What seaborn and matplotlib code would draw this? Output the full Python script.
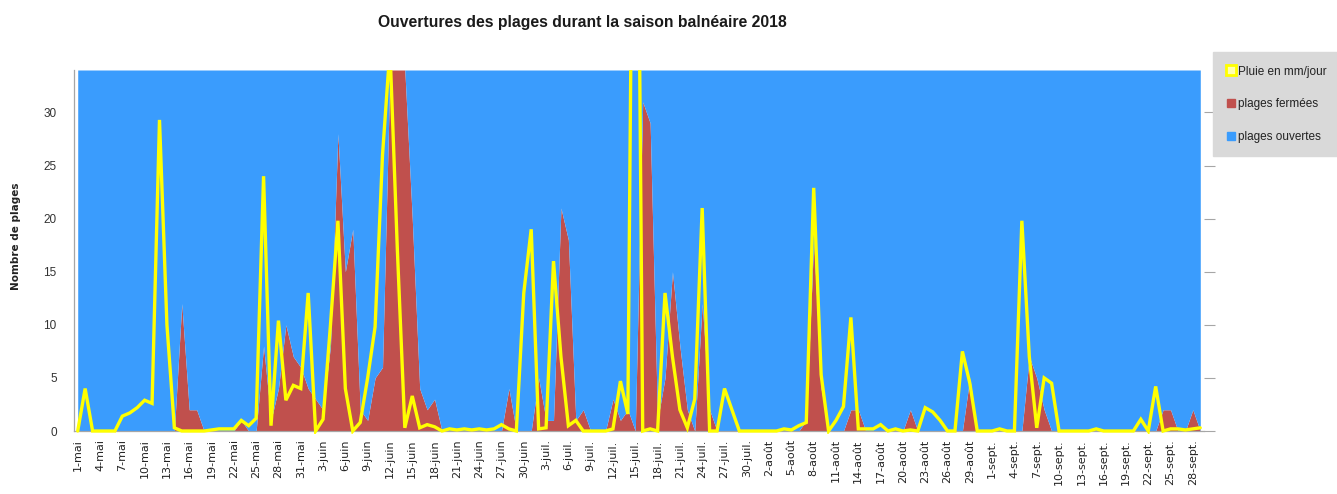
import numpy as np
import pandas as pd
import matplotlib
matplotlib.use("Agg")
import matplotlib.pyplot as plt
import seaborn as sns
from matplotlib.lines import Line2D
from matplotlib.transforms import Bbox, TransformedBbox

# ---------------- data ----------------
TITLE = "Ouvertures des plages durant la saison balnéaire 2018"
Y_LABEL = "Nombre de plages"
SERIES = ["Pluie en mm/jour", "plages fermées", "plages ouvertes"]
TOTAL_PLAGES = 34

jours = pd.date_range("2018-05-01", "2018-09-29", freq="D")

pluie = [
    0, 4, 0, 0, 0, 0, 1.4, 1.7, 2.2, 2.9,          # 1-10 mai
    2.6, 29.3, 10, 0.3, 0, 0, 0, 0, 0.1, 0.2,      # 11-20 mai
    0.2, 0.2, 1.0, 0.5, 1.2, 24, 0.5, 10.4, 2.9, 4.3,  # 21-30 mai
    4.0,                                            # 31 mai
    13, 0, 1.1, 10, 19.8, 4, 0, 0.8, 5, 9.8,       # 1-10 juin
    26, 36, 17, 0.3, 3.3, 0.3, 0.6, 0.4, 0, 0.2,   # 11-20 juin
    0.1, 0.2, 0.1, 0.2, 0.1, 0.2, 0.6, 0.2, 0, 13, # 21-30 juin
    19, 0.2, 0.3, 16, 7, 0.5, 1, 0, 0, 0,          # 1-10 juil
    0, 0.2, 4.7, 1.6, 85, 0, 0.2, 0, 13, 7,        # 11-20 juil
    2, 0.3, 3, 21, 0, 0, 4, 2, 0, 0,               # 21-30 juil
    0,                                              # 31 juil
    0, 0, 0, 0.2, 0.1, 0.5, 0.8, 22.9, 5.3, 0,     # 1-10 aout
    1, 2.3, 10.7, 0.2, 0.2, 0.2, 0.6, 0, 0.2, 0,   # 11-20 aout
    0.1, 0, 2.2, 1.8, 1.0, 0, 0, 7.5, 4.5, 0,      # 21-30 aout
    0,                                              # 31 aout
    0, 0.2, 0, 0, 19.8, 7, 0.3, 5, 4.5, 0,         # 1-10 sept
    0, 0, 0, 0, 0.2, 0, 0, 0, 0, 0,                # 11-20 sept
    1.1, 0, 4.2, 0, 0.2, 0.2, 0.1, 0.2, 0.3,       # 21-29 sept
]

fermees = [
    0, 0, 0, 0, 0, 0, 0, 0, 0, 0,                  # 1-10 mai
    0, 0, 0, 0, 12, 2, 2, 0, 0, 0,                 # 11-20 mai
    0, 0, 1, 0, 0, 8, 1, 4, 10, 7,                 # 21-30 mai
    6,                                              # 31 mai
    4, 3, 2, 8, 28, 15, 19, 2, 1, 5,               # 1-10 juin
    6, 34, 34, 34, 20, 4, 2, 3, 0, 0,              # 11-20 juin
    0, 0, 0, 0, 0, 0, 0, 4, 0, 0,                  # 21-30 juin
    0, 5, 1, 1, 21, 18, 1, 2, 0, 0,                # 1-10 juil
    0, 3, 1, 2, 0, 31, 29, 1, 5, 15,               # 11-20 juil
    8, 2, 0, 12, 2, 0, 0, 0, 0, 0,                 # 21-30 juil
    0,                                              # 31 juil
    0, 0, 0, 0, 0, 0, 1, 18, 4, 0,                 # 1-10 aout
    0, 0, 2, 2, 0, 0, 0, 0, 0, 0,                  # 11-20 aout
    2, 0, 0, 0, 0, 0, 0, 0, 5, 0,                  # 21-30 aout
    0,                                              # 31 aout
    0, 0, 0, 0, 0, 7, 5, 2, 0, 0,                  # 1-10 sept
    0, 0, 0, 0, 0, 0, 0, 0, 0, 0,                  # 11-20 sept
    0, 0, 0, 2, 2, 0, 0, 2, 0,                     # 21-29 sept
]

tick_labels = [
    "1-mai", "4-mai", "7-mai", "10-mai", "13-mai", "16-mai", "19-mai", "22-mai",
    "25-mai", "28-mai", "31-mai",
    "3-juin", "6-juin", "9-juin", "12-juin", "15-juin", "18-juin", "21-juin",
    "24-juin", "27-juin", "30-juin",
    "3-juil.", "6-juil.", "9-juil.", "12-juil.", "15-juil.", "18-juil.", "21-juil.",
    "24-juil.", "27-juil.", "30-juil.",
    "2-août", "5-août", "8-août", "11-août", "14-août", "17-août", "20-août",
    "23-août", "26-août", "29-août",
    "1-sept.", "4-sept.", "7-sept.", "10-sept.", "13-sept.", "16-sept.", "19-sept.",
    "22-sept.", "25-sept.", "28-sept.",
]
y_ticks = [0, 5, 10, 15, 20, 25, 30]

# ---------------- style ----------------
BLUE = "#3A9CFD"
RED = "#C0504D"
YELLOW = "#FFFF00"
LEGEND_BG = "#D9D9D9"
AXIS_GREY = "#A6A6A6"

sns.set_theme(style="white")
NARROW = ["Liberation Sans", "DejaVu Sans"]
plt.rcParams["font.family"] = ["DejaVu Sans"]

n = len(jours)
df = pd.DataFrame({
    "jour": np.arange(n),
    "pluie": pluie,
    "fermees": fermees,
})
df["ouvertes"] = TOTAL_PLAGES - df["fermees"]

W, H = 1337, 494
fig = plt.figure(figsize=(W / 100, H / 100), dpi=100)
x0, x1, y0, y1 = 74, 1204, 70, 431
ax = fig.add_axes([x0 / W, 1 - y1 / H, (x1 - x0) / W, (y1 - y0) / H])

ax.stackplot(df["jour"], df["fermees"], df["ouvertes"],
             colors=[RED, BLUE], linewidth=0, zorder=1)

sns.lineplot(data=df, x="jour", y="pluie", color=YELLOW, linewidth=2.4,
             ax=ax, zorder=3, legend=False)
line = ax.lines[-1]
line.set_solid_joinstyle("miter")

ax.set_xlim(-0.5, n - 0.5)
ax.set_ylim(0, TOTAL_PLAGES)
# keep the rain line fully visible along the base
line.set_clip_box(TransformedBbox(Bbox([[-0.5, -0.25], [n - 0.5, TOTAL_PLAGES]]),
                                  ax.transData))

ax.set_xticks(np.arange(0, n, 3))
ax.set_xticklabels(tick_labels, rotation=90, fontsize=8, color="#222222")
ax.set_yticks(y_ticks)
ax.set_yticklabels([str(v) for v in y_ticks], fontsize=8.5, color="#333333",
                   family=NARROW)
ax.tick_params(axis="x", length=0, pad=6)
ax.tick_params(axis="y", which="both", left=False, right=True, labelleft=True,
               labelright=False, direction="out", length=8, width=0.8,
               color=AXIS_GREY, pad=4.5)
ax.set_xlabel("")
ax.set_ylabel("")
ax.grid(False)
for side in ["top", "right"]:
    ax.spines[side].set_visible(False)
for side in ["left", "bottom"]:
    ax.spines[side].set_color(AXIS_GREY)
    ax.spines[side].set_linewidth(0.9)

fig.text(582 / W, 1 - 23 / H, TITLE, ha="center", va="center",
         fontsize=11.3, fontweight="bold", family=NARROW, color="#1a1a1a")
fig.text(16 / W, 1 - 236 / H, Y_LABEL, ha="center", va="center", rotation=90,
         fontsize=7.5, fontweight="bold", color="#222222")

handles = [
    Line2D([], [], linestyle="none", marker="s", markersize=7,
           markerfacecolor="#FFFFB0", markeredgecolor=YELLOW, markeredgewidth=2),
    Line2D([], [], linestyle="none", marker="s", markersize=6,
           markerfacecolor=RED, markeredgecolor=RED),
    Line2D([], [], linestyle="none", marker="s", markersize=6,
           markerfacecolor=BLUE, markeredgecolor=BLUE),
]
leg = fig.legend(handles, SERIES, loc="upper left",
                 bbox_to_anchor=(1213 / W, 1 - 52 / H),
                 frameon=True, fancybox=False, framealpha=1,
                 facecolor=LEGEND_BG, edgecolor=LEGEND_BG,
                 prop={"family": NARROW, "size": 8.5},
                 labelspacing=1.75, handlelength=0.7, handletextpad=0.3,
                 borderpad=1.15, borderaxespad=0)
for t in leg.get_texts():
    t.set_color("#222222")

fig.savefig("out.png", dpi=100)
